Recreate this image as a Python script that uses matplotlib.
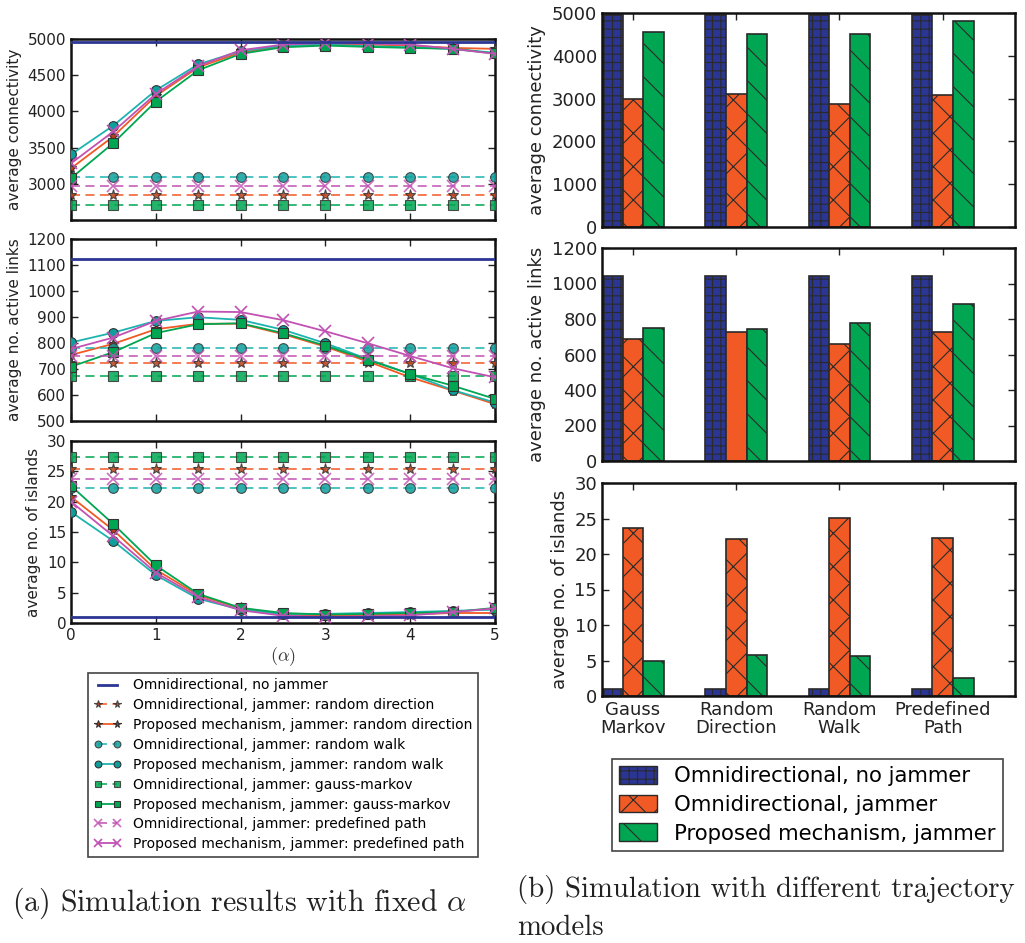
import matplotlib
matplotlib.use("Agg")
import matplotlib.pyplot as plt
from matplotlib.patches import Patch

plt.rcParams['font.family'] = ['DejaVu Sans']
plt.rcParams['mathtext.fontset'] = 'cm'
plt.rcParams['hatch.linewidth'] = 0.8

# ---------------- data: panel (a) ----------------
alpha = [0, 0.5, 1, 1.5, 2, 2.5, 3, 3.5, 4, 4.5, 5]

conn_nojam = 4955
conn_omni = {'rd': 2850, 'rw': 3100, 'gm': 2710, 'pp': 2970}
conn_prop_rd = [3214, 3655, 4214, 4609, 4814, 4900, 4923, 4923, 4909, 4877, 4864]
conn_prop_rw = [3405, 3805, 4291, 4650, 4832, 4909, 4923, 4900, 4886, 4864, 4809]
conn_prop_gm = [3077, 3564, 4136, 4568, 4795, 4886, 4909, 4891, 4877, 4864, 4800]
conn_prop_pp = [3282, 3723, 4241, 4627, 4845, 4923, 4945, 4936, 4923, 4864, 4795]

links_nojam = 1125
links_omni = {'rd': 725, 'rw': 779, 'gm': 675, 'pp': 749}
links_prop_rd = [754, 797, 853, 874, 874, 834, 786, 729, 668, 617, 565]
links_prop_rw = [802, 840, 885, 899, 889, 851, 799, 738, 681, 619, 571]
links_prop_gm = [709, 765, 838, 872, 876, 838, 790, 735, 681, 636, 585]
links_prop_pp = [777, 821, 885, 921, 919, 888, 845, 799, 750, 703, 668]

isl_nojam = 1.0
isl_omni = {'rd': 25.4, 'rw': 22.3, 'gm': 27.3, 'pp': 23.8}
isl_prop_rd = [20.8, 15.3, 8.8, 4.6, 2.4, 1.4, 1.2, 1.3, 1.4, 1.65, 1.65]
isl_prop_rw = [18.3, 13.5, 7.9, 4.0, 2.2, 1.5, 1.5, 1.65, 1.8, 2.0, 2.2]
isl_prop_gm = [22.6, 16.3, 9.5, 4.8, 2.5, 1.65, 1.4, 1.5, 1.65, 1.8, 2.5]
isl_prop_pp = [20.0, 14.3, 8.3, 4.3, 2.1, 1.2, 1.0, 1.1, 1.25, 1.8, 2.4]

# ---------------- data: panel (b) ----------------
models = ['Gauss\nMarkov', 'Random\nDirection', 'Random\nWalk', 'Predefined\nPath']
bar_labels = ['Omnidirectional, no jammer', 'Omnidirectional, jammer',
              'Proposed mechanism, jammer']
conn_bars = [[4950, 4950, 4950, 4950],
             [2984, 3102, 2867, 3094],
             [4562, 4508, 4516, 4812]]
links_bars = [[1042, 1042, 1042, 1042],
              [690, 725, 659, 725],
              [750, 744, 780, 887]]
isl_bars = [[1.0, 1.0, 1.0, 1.0],
            [23.7, 22.1, 25.1, 22.3],
            [5.0, 5.8, 5.7, 2.5]]

# ---------------- styles ----------------
BLUE = '#2b3593'
ORANGE = '#f15a24'
CYAN = '#1db3b0'
GREEN = '#00a651'
MAG = '#c152b4'

series = [
    ('rd', 'random direction', ORANGE, '*', '#b8401c'),
    ('rw', 'random walk', CYAN, 'o', '#0e9f9c'),
    ('gm', 'gauss-markov', GREEN, 's', '#00a651'),
    ('pp', 'predefined path', MAG, 'x', MAG),
]

W, H = 1025, 943
fig = plt.figure(figsize=(W / 100, H / 100), dpi=100)


def ax_at(l, t, r, b):
    return fig.add_axes([l / W, 1 - b / H, (r - l) / W, (b - t) / H])


def style(ax, fs):
    for s in ax.spines.values():
        s.set_linewidth(1.8)
        s.set_color('#111111')
    ax.tick_params(direction='in', top=True, right=True, length=5,
                   width=1, labelsize=fs, colors='#222222')


left_axes = [ax_at(71, 39, 495, 220), ax_at(71, 239, 495, 421), ax_at(71, 441, 495, 623)]
datasets = [
    (conn_nojam, conn_omni, {'rd': conn_prop_rd, 'rw': conn_prop_rw, 'gm': conn_prop_gm, 'pp': conn_prop_pp},
     (2500, 5000), [2500, 3000, 3500, 4000, 4500, 5000], 'average connectivity'),
    (links_nojam, links_omni, {'rd': links_prop_rd, 'rw': links_prop_rw, 'gm': links_prop_gm, 'pp': links_prop_pp},
     (500, 1200), [500, 600, 700, 800, 900, 1000, 1100, 1200], 'average no. active links'),
    (isl_nojam, isl_omni, {'rd': isl_prop_rd, 'rw': isl_prop_rw, 'gm': isl_prop_gm, 'pp': isl_prop_pp},
     (0, 30), [0, 5, 10, 15, 20, 25, 30], 'average no. of islands'),
]

handles = []
for i, (ax, (nj, omni, prop, ylim, yt, ylab)) in enumerate(zip(left_axes, datasets)):
    h0, = ax.plot(alpha, [nj] * len(alpha), color=BLUE, lw=2,
                  label='Omnidirectional, no jammer', zorder=4)
    hs = [h0]
    for key, name, col, mk, mfc in series:
        ms = 8 if mk == '*' else (8 if mk == 'x' else 7)
        mec = MAG if mk == 'x' else '#333333'
        mew = 1.2 if mk == 'x' else 0.8
        hd, = ax.plot(alpha, [omni[key]] * len(alpha), ls='--', dashes=(5, 3), color=col,
                      lw=1.3, marker=mk, ms=ms, mfc=mfc, mec=mec, mew=mew, alpha=0.85,
                      label='Omnidirectional, jammer: ' + name, zorder=3)
        hp, = ax.plot(alpha, prop[key], ls='-', color=col, lw=1.3, marker=mk, ms=ms,
                      mfc=mfc, mec=mec, mew=mew,
                      label='Proposed mechanism, jammer: ' + name, zorder=3)
        hs += [hd, hp]
    if i == 0:
        handles = hs
    ax.set_xlim(0, 5)
    ax.set_ylim(*ylim)
    ax.set_yticks(yt)
    ax.set_xticks([0, 1, 2, 3, 4, 5])
    style(ax, 11)
    ax.set_ylabel(ylab, fontsize=11, color='#222222')
    if i < 2:
        ax.set_xticklabels([])
    if i == 0:
        ax.set_yticklabels([''] + [str(v) for v in yt[1:]])
left_axes[2].set_xlabel(r'$(\alpha)$', fontsize=13, labelpad=2, color='#333333')

leg = fig.legend(handles=handles, loc='upper center', bbox_to_anchor=(283 / W, 1 - 666 / H),
                 fontsize=10, numpoints=2, handlelength=2.0, labelspacing=0.42,
                 markerscale=0.7, fancybox=False, framealpha=1, edgecolor='#444444',
                 borderpad=0.4)
leg.get_frame().set_linewidth(1.2)

# ---------------- panel (b) ----------------
right_axes = [ax_at(602, 13, 1015, 227), ax_at(602, 248, 1015, 461), ax_at(602, 483, 1015, 696)]
bar_sets = [(conn_bars, (0, 5000), [0, 1000, 2000, 3000, 4000, 5000], 'average connectivity'),
            (links_bars, (0, 1200), [0, 200, 400, 600, 800, 1000, 1200], 'average no. active links'),
            (isl_bars, (0, 30), [0, 5, 10, 15, 20, 25, 30], 'average no. of islands')]
bar_colors = [BLUE, ORANGE, GREEN]
hatches = ['++', 'x', '\\']
bw = 0.2
xs = list(range(len(models)))
for j, (ax, (vals, ylim, yt, ylab)) in enumerate(zip(right_axes, bar_sets)):
    for k in range(3):
        bars = ax.bar([x + k * bw for x in xs], vals[k], width=bw, align='edge',
                      color=bar_colors[k], edgecolor='#2a2a2a', linewidth=1.2,
                      hatch=hatches[k], label=bar_labels[k], zorder=2)
        if j == 1 and k == 1:
            bars[1].set_hatch('')
    ax.set_xlim(0, 4)
    ax.set_ylim(*ylim)
    ax.set_yticks(yt)
    ax.set_xticks([x + 0.3 for x in xs])
    style(ax, 13)
    ax.set_ylabel(ylab, fontsize=13, color='#222222')
    if j < 2:
        ax.set_xticklabels([])
    else:
        ax.set_xticklabels(models, fontsize=13, linespacing=1.0)

bh = [Patch(facecolor=bar_colors[k], edgecolor='#2a2a2a', hatch=hatches[k], label=bar_labels[k])
      for k in range(3)]
leg2 = fig.legend(handles=bh, loc='upper left', bbox_to_anchor=(601 / W, 1 - 748 / H),
                  fontsize=15.3, handlelength=1.8, handleheight=0.9, labelspacing=0.4,
                  handletextpad=0.8, fancybox=False, framealpha=1, edgecolor='#444444',
                  borderpad=0.35)
leg2.get_frame().set_linewidth(1.2)

# ---------------- captions ----------------
cap = dict(family='cmr10', va='center', ha='left', color='#222222')
fig.text(12 / W, 1 - 903 / H, r'(a) Simulation results with fixed $\alpha$', fontsize=21.5, **cap)
fig.text(517 / W, 1 - 890 / H, '(b) Simulation with different trajectory', fontsize=20.8, **cap)
fig.text(517 / W, 1 - 928 / H, 'models', fontsize=20.8, **cap)

fig.savefig('out.png', dpi=100)
